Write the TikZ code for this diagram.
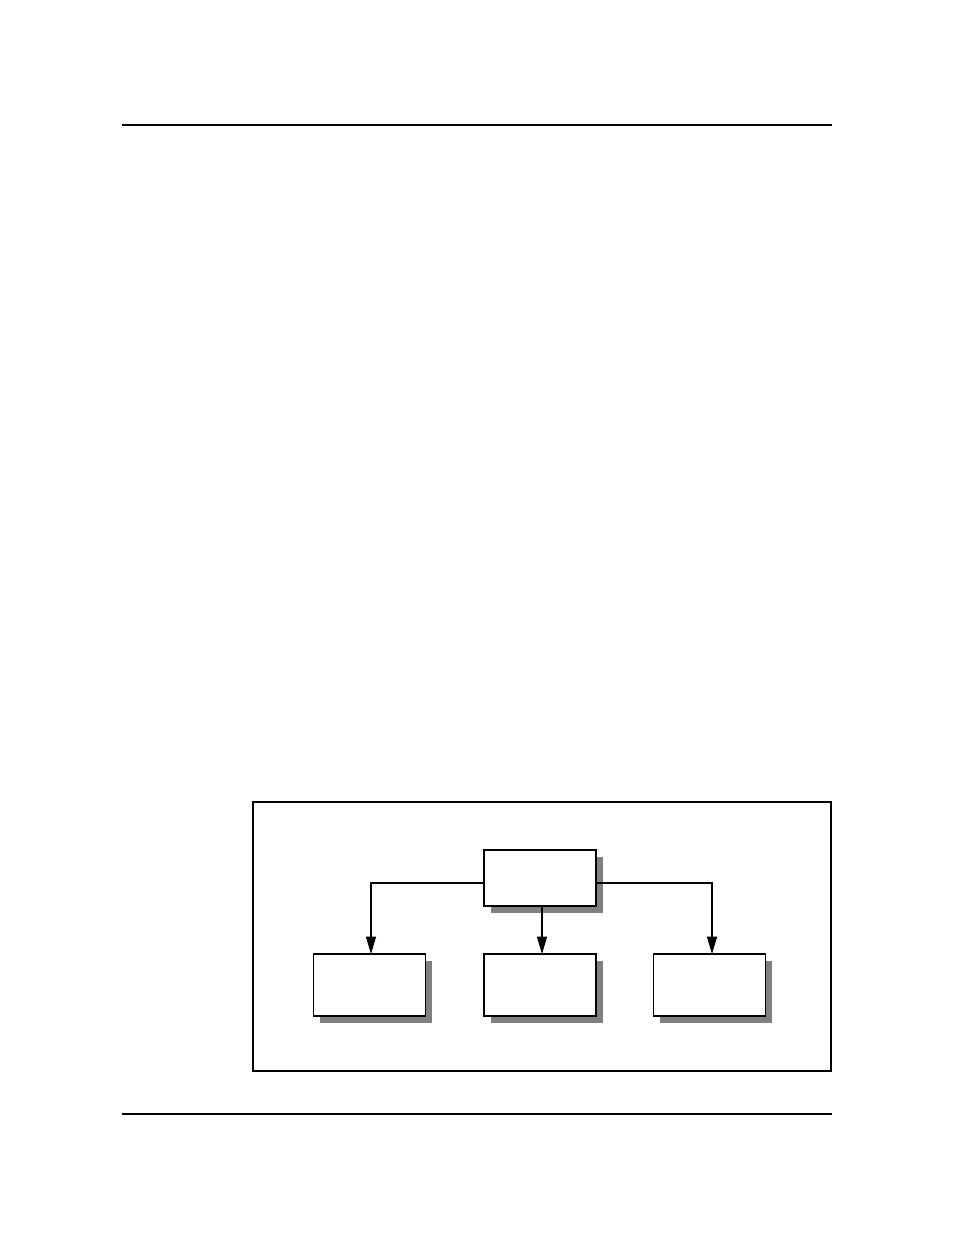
\documentclass[tikz,border=0pt]{standalone}
\usetikzlibrary{arrows.meta,shadows}
\definecolor{shadowgray}{HTML}{808080}
\tikzset{
  box/.style={draw=black, fill=white, line width=1pt, inner sep=0pt, outer sep=0pt,
    minimum width=84pt,
    drop shadow={shadow xshift=5pt, shadow yshift=-5pt, fill=shadowgray, opacity=1}},
  topbox/.style={box, minimum height=42pt},
  lowbox/.style={box, minimum height=46.5pt},
  conn/.style={draw=black, line width=0.8pt, -{Triangle[length=13pt,width=7.5pt]}},
  frame/.style={draw=black, line width=1.6pt},
  rule/.style={draw=black, line width=0.8pt}
}
\begin{document}
\begin{tikzpicture}[x=0.75pt,y=-0.75pt]
\useasboundingbox (0,0) rectangle (954,1235);
\coordinate (rl1) at (122,125);
\coordinate (rr1) at (832,125);
\coordinate (rl2) at (122,1114);
\coordinate (rr2) at (832,1114);
\draw[rule] (rl1) -- (rr1);
\draw[rule] (rl2) -- (rr2);
\coordinate (fa) at (253,802);
\coordinate (fb) at (831,1071);
\draw[frame] (fa) rectangle (fb);
\node[topbox] (top) at (540,878) {};
\node[lowbox] (left) at (369.5,985) {};
\node[lowbox] (mid) at (540,985) {};
\node[lowbox] (right) at (709.5,985) {};
\coordinate (jl) at (371,883);
\coordinate (jm) at (542,883);
\coordinate (jr) at (712,883);
\draw[conn] (top.west |- jl) -| (jl |- left.north);
\draw[conn] (top.south -| jm) -- (jm |- mid.north);
\draw[conn] (top.east |- jr) -| (jr |- right.north);
\end{tikzpicture}
\end{document}
